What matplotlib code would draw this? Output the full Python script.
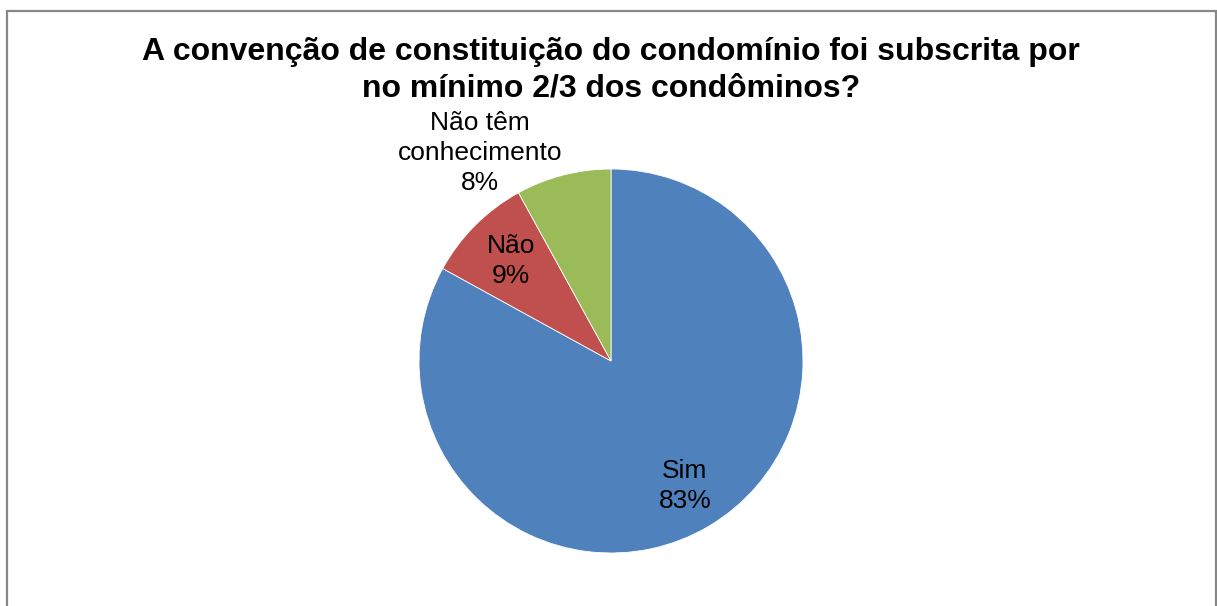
import numpy as np
import matplotlib
matplotlib.use("Agg")
import matplotlib.pyplot as plt
from matplotlib.patches import Rectangle

plt.rcParams['font.family'] = ['Liberation Sans', 'DejaVu Sans']

# Survey answers
categories = ['Sim', 'Não', 'Não têm\nconhecimento']
shares = [83, 9, 8]
colors = ['#4F81BD', '#C0504D', '#9BBB59']
title = 'A convenção de constituição do condomínio foi subscrita por\nno mínimo 2/3 dos condôminos?'

W, H = 1217, 606
fig = plt.figure(figsize=(W / 100, H / 100), dpi=100)

# grey frame around the chart area
fig.patches.append(Rectangle((7 / W, -0.1), (1216 - 7) / W, 1.1 - 11 / H,
                             transform=fig.transFigure, fill=False,
                             edgecolor='#878787', linewidth=1.6))

cx, cy, r = 611, 361, 192
ax = fig.add_axes([(cx - r) / W, (H - cy - r) / H, 2 * r / W, 2 * r / H])
wedges, _ = ax.pie(shares, colors=colors, startangle=90, counterclock=False,
                   radius=1, wedgeprops=dict(edgecolor='white', linewidth=0.6))
ax.set_xlim(-1, 1)
ax.set_ylim(-1, 1)
ax.set_aspect('auto')
ax.axis('off')

# labels: inside for the two big slices, outside for the last one
label_r = [0.755, 0.735, None]
for w, cat, val, lr in zip(wedges, categories, shares, label_r):
    text = f'{cat}\n{val}%'
    if lr is not None:
        ang = np.deg2rad((w.theta1 + w.theta2) / 2)
        x, y = lr * np.cos(ang), lr * np.sin(ang)
    else:
        x, y = -131 / r, 208 / r
    ax.text(x, y, text, ha='center', va='center', fontsize=19,
            linespacing=1.3, clip_on=False)

fig.text(cx / W, 1 - 70 / H, title, ha='center', va='center',
         fontsize=23, fontweight='bold', linespacing=1.27)

fig.savefig('out.png', dpi=100)
